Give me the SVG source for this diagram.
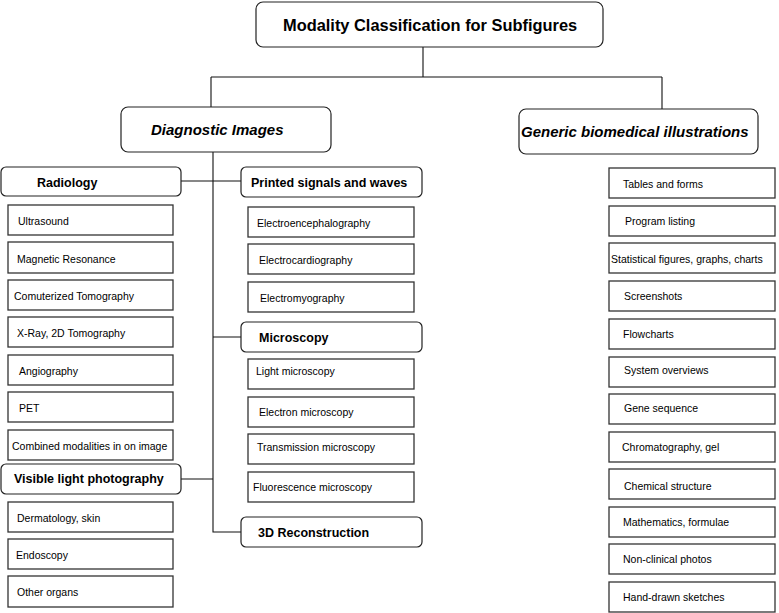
<svg xmlns="http://www.w3.org/2000/svg" width="779" height="613" viewBox="0 0 779 613">
<style>
.rb{fill:#fff;stroke:#222;stroke-width:1.2}
.lb{fill:#fff;stroke:#333;stroke-width:1.3}
.cn{stroke:#111;stroke-width:1.1;fill:none}
.t{font-family:"Liberation Sans",Arial,sans-serif;font-size:10.5px;fill:#000}
.h{font-family:"Liberation Sans",Arial,sans-serif;font-size:12.5px;font-weight:bold;fill:#000}
.i{font-family:"Liberation Sans",Arial,sans-serif;font-size:15px;font-weight:bold;font-style:italic;fill:#000}
.ti{font-family:"Liberation Sans",Arial,sans-serif;font-size:16.4px;font-weight:bold;fill:#000}
</style>
<rect width="779" height="613" fill="#fff"/>
<g id="connectors">
<path class="cn" d="M423 47V77M211 77H662M211 77V107M662 77V109"/>
<path class="cn" d="M213 152V532H241M181 181H241M213 337H241M181 479H213"/>
</g>
<g id="root"><rect class="rb" x="256" y="2" width="347" height="45" rx="7"/><text class="ti" x="283" y="31">Modality Classification for Subfigures</text></g>
<g id="diagnostic"><rect class="rb" x="121" y="107" width="210" height="45" rx="7"/><text class="i" x="151" y="135">Diagnostic Images</text></g>
<g id="generic"><rect class="rb" x="519" y="109" width="239" height="45" rx="7"/><text class="i" x="521" y="137">Generic biomedical illustrations</text></g>

<g id="radiology"><rect class="rb" x="1" y="167" width="180" height="29" rx="5"/><text class="h" x="37" y="187">Radiology</text></g>
<g id="ultrasound"><rect class="lb" x="8" y="205" width="165" height="30"/><text class="t" x="18" y="225">Ultrasound</text></g>
<g id="mr"><rect class="lb" x="8" y="242" width="165" height="31"/><text class="t" x="17" y="263">Magnetic Resonance</text></g>
<g id="ct"><rect class="lb" x="8" y="280" width="165" height="30"/><text class="t" x="14" y="300">Comuterized Tomography</text></g>
<g id="xray"><rect class="lb" x="8" y="317" width="165" height="30"/><text class="t" x="17" y="337">X-Ray, 2D Tomography</text></g>
<g id="angio"><rect class="lb" x="8" y="355" width="165" height="30"/><text class="t" x="19" y="375">Angiography</text></g>
<g id="pet"><rect class="lb" x="8" y="392" width="165" height="30"/><text class="t" x="19" y="412">PET</text></g>
<g id="combined"><rect class="lb" x="8" y="430" width="165" height="30"/><text class="t" x="12" y="450">Combined modalities in on image</text></g>

<g id="visible"><rect class="rb" x="1" y="464" width="180" height="30" rx="5"/><text class="h" x="14" y="483">Visible light photography</text></g>
<g id="derma"><rect class="lb" x="8" y="502" width="165" height="30"/><text class="t" x="17" y="522">Dermatology, skin</text></g>
<g id="endo"><rect class="lb" x="8" y="539" width="165" height="30"/><text class="t" x="16" y="559">Endoscopy</text></g>
<g id="other"><rect class="lb" x="8" y="576" width="165" height="31"/><text class="t" x="17" y="596">Other organs</text></g>

<g id="printed"><rect class="rb" x="241" y="167" width="181" height="30" rx="5"/><text class="h" x="251" y="187">Printed signals and waves</text></g>
<g id="eeg"><rect class="lb" x="248" y="207" width="166" height="30"/><text class="t" x="257" y="227">Electroencephalography</text></g>
<g id="ecg"><rect class="lb" x="248" y="244" width="166" height="30"/><text class="t" x="259" y="264">Electrocardiography</text></g>
<g id="emg"><rect class="lb" x="248" y="282" width="166" height="30"/><text class="t" x="260" y="302">Electromyography</text></g>

<g id="microscopy"><rect class="rb" x="241" y="322" width="181" height="30" rx="5"/><text class="h" x="259" y="342">Microscopy</text></g>
<g id="light"><rect class="lb" x="248" y="359" width="166" height="30"/><text class="t" x="256" y="375">Light microscopy</text></g>
<g id="electron"><rect class="lb" x="248" y="397" width="166" height="30"/><text class="t" x="259" y="416">Electron microscopy</text></g>
<g id="transmission"><rect class="lb" x="248" y="434" width="166" height="30"/><text class="t" x="257" y="451">Transmission microscopy</text></g>
<g id="fluorescence"><rect class="lb" x="248" y="472" width="166" height="30"/><text class="t" x="253" y="491">Fluorescence microscopy</text></g>

<g id="recon"><rect class="rb" x="241" y="517" width="181" height="30" rx="5"/><text class="h" x="258" y="537">3D Reconstruction</text></g>

<g id="tables"><rect class="lb" x="609" y="168" width="166" height="30"/><text class="t" x="623" y="188">Tables and forms</text></g>
<g id="program"><rect class="lb" x="609" y="206" width="166" height="30"/><text class="t" x="625" y="225">Program listing</text></g>
<g id="stat"><rect class="lb" x="609" y="243" width="166" height="30"/><text class="t" x="611" y="263">Statistical figures, graphs, charts</text></g>
<g id="screens"><rect class="lb" x="609" y="281" width="166" height="30"/><text class="t" x="624" y="300">Screenshots</text></g>
<g id="flow"><rect class="lb" x="609" y="319" width="166" height="30"/><text class="t" x="623" y="338">Flowcharts</text></g>
<g id="system"><rect class="lb" x="609" y="357" width="166" height="30"/><text class="t" x="624" y="374">System overviews</text></g>
<g id="gene"><rect class="lb" x="609" y="394" width="166" height="30"/><text class="t" x="624" y="412">Gene sequence</text></g>
<g id="chroma"><rect class="lb" x="609" y="432" width="166" height="30"/><text class="t" x="622" y="451">Chromatography, gel</text></g>
<g id="chem"><rect class="lb" x="609" y="469" width="166" height="30"/><text class="t" x="624" y="490">Chemical structure</text></g>
<g id="math"><rect class="lb" x="609" y="507" width="166" height="30"/><text class="t" x="623" y="526">Mathematics, formulae</text></g>
<g id="nonclin"><rect class="lb" x="609" y="544" width="166" height="30"/><text class="t" x="623" y="563">Non-clinical photos</text></g>
<g id="hand"><rect class="lb" x="609" y="582" width="166" height="30"/><text class="t" x="623" y="601">Hand-drawn sketches</text></g>
</svg>
